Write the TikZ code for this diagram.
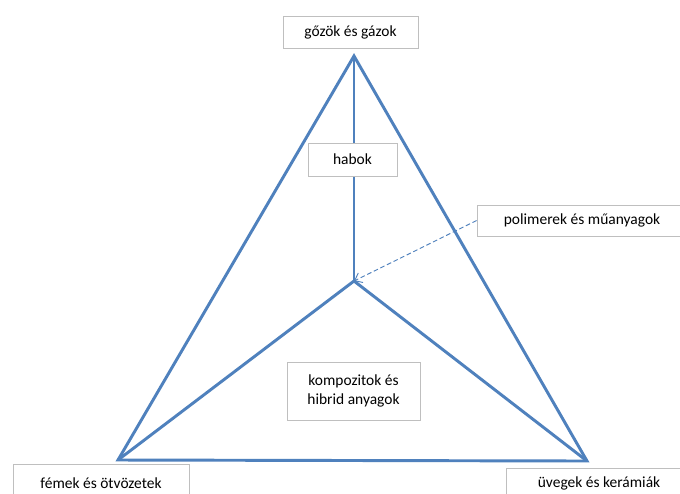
\documentclass[tikz,border=0pt]{standalone}
\usepackage{fontspec}
\setmainfont{Carlito}
\usetikzlibrary{arrows.meta}
\definecolor{edgeblue}{RGB}{79,129,189}
\definecolor{boxgray}{RGB}{191,191,191}
\tikzset{
  lbl/.style={draw=boxgray, line width=0.6pt, fill=white, font=\fontsize{11.6pt}{13.8pt}\selectfont, align=center, inner sep=0pt},
  edge/.style={draw=edgeblue, line width=2.2pt, line join=miter, miter limit=20},
}
\begin{document}
\begin{tikzpicture}[x=0.75pt, y=-0.75pt]
\useasboundingbox (0,0) rectangle (680,493);
\clip (0,0) rectangle (680,493);
\fill[white] (0,0) rectangle (680,493);
% vertices
\coordinate (T) at (354,56);
\coordinate (L) at (118,460);
\coordinate (R) at (587,461);
\coordinate (C) at (354,281);
% triangle and spokes
\draw[edge] (T) -- (L) -- (R) -- cycle;
\draw[edge] (T) -- (C);
\draw[edge] (L) -- (C) -- (R);
% labels
\node[lbl, minimum width=135*0.75pt, minimum height=32*0.75pt] (gaz) at (350.5,32.5) {gőzök és gázok};
\node[lbl, minimum width=89*0.75pt, minimum height=33*0.75pt] (hab) at (352.5,159.5) {habok};
\node[lbl, minimum width=210*0.75pt, minimum height=31*0.75pt] (pol) at (582,220.5) {polimerek és műanyagok};
\node[lbl, minimum width=133*0.75pt, minimum height=58*0.75pt] (kom) at (353.5,391) {kompozitok és\\hibrid anyagok};
\node[lbl, minimum width=176*0.75pt, text height=18pt, text depth=12pt, anchor=base] (fem) at (101,488) {fémek és ötvözetek};
\node[lbl, minimum width=186*0.75pt, text height=14pt, text depth=12pt, anchor=base] (uveg) at (599,487) {üvegek és kerámiák};
% dashed arrow
\draw[draw=edgeblue, line width=0.7pt, dash pattern=on 3.5pt off 2pt, -{Straight Barb[length=5pt, width=8pt]}] (pol.west) -- (C);
\end{tikzpicture}
\end{document}
